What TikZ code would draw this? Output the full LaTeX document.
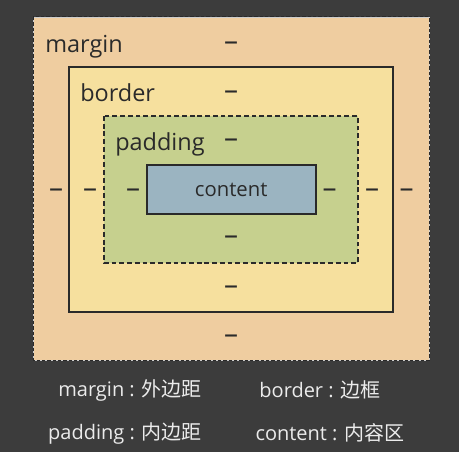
\documentclass[tikz,border=0pt]{standalone}
\usepackage{fontspec}
\setmainfont{Open Sans}
\newfontfamily\cjk{Noto Sans CJK SC}
\definecolor{bg}{HTML}{3C3C3C}
\definecolor{marginc}{HTML}{EFCDA0}
\definecolor{borderc}{HTML}{F6E09E}
\definecolor{paddingc}{HTML}{C6D08E}
\definecolor{contentc}{HTML}{9BB4C1}
\definecolor{ink}{HTML}{2A2A2A}
\tikzset{
  boxlabel/.style={anchor=base west, text=ink, font=\fontsize{17.6}{20}\selectfont, inner sep=0pt},
  dashlabel/.style={text=ink, font=\fontsize{21}{23}\selectfont, inner sep=0pt},
  legend/.style={text=white!92!black, font=\fontsize{15}{18}\selectfont, inner sep=0pt},
}
\begin{document}
\begin{tikzpicture}[x=0.75pt,y=-0.75pt]
\fill[bg] (0,0) rectangle (459,452);
\useasboundingbox (0,0) rectangle (459,452);
% margin
\fill[marginc] (33,17) rectangle (429,360);
\draw[white!80!black, line width=0.6pt] (33,17) rectangle (429,360);
\draw[ink, dashed, dash pattern=on 2.4pt off 1.6pt, line width=0.75pt] (33,17) coordinate (mtl) rectangle (429,360) coordinate (mbr);
% border
\draw[ink, fill=borderc, line width=1.2pt] (69,67) coordinate (btl) rectangle (393,312) coordinate (bbr);
% padding
\draw[ink, fill=paddingc, dashed, dash pattern=on 3.6pt off 2.2pt, line width=1.1pt] (104,116) coordinate (ptl) rectangle (358,263) coordinate (pbr);
% content
\node[draw=ink, fill=contentc, line width=1.2pt, inner sep=0pt,
      minimum width=126.75pt, minimum height=36.75pt,
      text height=9.75pt, text depth=0pt,
      text=ink, font=\fontsize{15.2}{17}\selectfont] (content) at (231.2,189.5) {content};
% labels
\node[boxlabel] (lmargin) at (45,53) {margin};
\node[boxlabel] (lborder) at (80,101.7) {border};
\node[boxlabel] (lpadding) at (115,150.5) {padding};
% dashes
\node[dashlabel] (dmt) at (231,46.7) {–};
\node[dashlabel] (dbt) at (231,95.7) {–};
\node[dashlabel] (dpt) at (231,143.3) {–};
\node[dashlabel] (dpb) at (231,240.7) {–};
\node[dashlabel] (dbb) at (231,290.5) {–};
\node[dashlabel] (dmb) at (231,339.3) {–};
\node[dashlabel] (dml) at (56,193) {–};
\node[dashlabel] (dbl) at (90,193) {–};
\node[dashlabel] (dpl) at (133,193) {–};
\node[dashlabel] (dpr) at (329.5,193) {–};
\node[dashlabel] (dbr) at (372,193) {–};
\node[dashlabel] (dmr) at (406.7,193) {–};
% legend
\node[legend] (l1) at (130,390) {margin : {\cjk 外边距}};
\node[legend] (l2) at (320,390) {border : {\cjk 边框}};
\node[legend] (l3) at (125,433) {padding : {\cjk 内边距}};
\node[legend] (l4) at (330,433) {content : {\cjk 内容区}};
\end{tikzpicture}
\end{document}
